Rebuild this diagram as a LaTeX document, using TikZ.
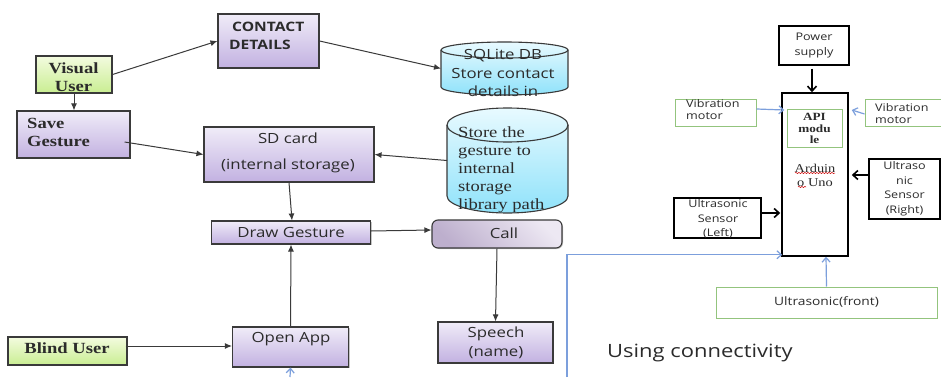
\documentclass[tikz,border=0pt]{standalone}
\usepackage{fontspec}
\setmainfont[FakeStretch=1.2]{Open Sans}
\newfontfamily\serifF[FakeStretch=1.2]{Liberation Serif}
\usetikzlibrary{arrows.meta,shadows,decorations.pathmorphing}
\definecolor{boxline}{HTML}{3A3A3A}
\definecolor{bluel}{HTML}{7C9FDC}
\definecolor{greenl}{HTML}{93C47D}
\definecolor{ink}{HTML}{2B2B2B}
\definecolor{purpleT}{HTML}{F0ECF8}
\definecolor{purpleB}{HTML}{C2B1E1}
\definecolor{greenT}{HTML}{F3FBDF}
\definecolor{greenB}{HTML}{C9EE92}
\definecolor{cyanT}{HTML}{E8FAFF}
\definecolor{cyanB}{HTML}{8FE2FA}
\definecolor{callT}{HTML}{EDE8F3}
\definecolor{callB}{HTML}{BDAFCD}
\tikzset{
  x=1pt,y=-1pt,
  txt/.style={text=ink,inner sep=0pt,align=center,font=\fontsize{14}{20}\selectfont},
  serifbold/.style={txt,font=\serifF\bfseries\fontsize{15.5}{18}\selectfont},
  sansbold/.style={txt,font=\bfseries\fontsize{13}{18}\selectfont},
  smalltxt/.style={txt,font=\fontsize{10.5}{14.5}\selectfont},
  soft shadow/.style={drop shadow={shadow xshift=1pt,shadow yshift=-1pt,fill=gray,opacity=.45}},
  purple box/.style={rectangle,draw=boxline,line width=1.1pt,top color=purpleT,bottom color=purpleB,inner sep=0pt,soft shadow},
  green box/.style={rectangle,draw=boxline,line width=1.1pt,top color=greenT,bottom color=greenB,inner sep=0pt,soft shadow},
  blackbox/.style={rectangle,draw=black,line width=1.5pt,fill=white,inner sep=0pt},
  thinbox/.style={rectangle,draw=greenl,line width=1pt,fill=white,inner sep=0pt},
  conn/.style={draw=boxline,line width=1pt,-{Latex[length=7pt,width=6pt]}},
  thick conn/.style={draw=black,line width=1.6pt,-{Straight Barb[length=5pt,width=9pt]}},
  blue conn/.style={draw=bluel,line width=1.2pt,-{Straight Barb[length=4.5pt,width=8pt]}},
  squiggle/.style={red!80!black,line width=.5pt,decorate,decoration={snake,amplitude=.6pt,segment length=3pt}},
}
% name, left, top, right, bottom, ry
\newcommand{\cylshape}[6]{%
  \pgfmathsetmacro{\rxv}{(#4-#2)/2}
  \pgfmathsetmacro{\yt}{#3+#6}
  \pgfmathsetmacro{\yb}{#5-#6}
  \path[top color=cyanT,bottom color=cyanB,draw=boxline,line width=1.1pt]
    (#2,\yt) arc[start angle=180,end angle=0,x radius=\rxv pt,y radius=#6 pt]
    -- (#4,\yb) arc[start angle=0,end angle=-180,x radius=\rxv pt,y radius=#6 pt] -- cycle;
  \draw[boxline,line width=1.1pt] (#2,\yt) arc[start angle=180,end angle=360,x radius=\rxv pt,y radius=#6 pt];
  \node[minimum width=#4 pt-#2 pt,minimum height=#5 pt-#3 pt,inner sep=0pt,outer sep=0pt] (#1) at ({(#2+#4)/2},{(#3+#5)/2}) {};
}
\begin{document}
\begin{tikzpicture}
\useasboundingbox (0,0) rectangle (941,377);
\fill[white] (0,0) rectangle (941,377);

% left flowchart boxes
\node[green box,minimum width=76pt,minimum height=37pt] (visual) at (74,74.5) {};
\node[purple box,minimum width=113pt,minimum height=47pt] (save) at (73.5,134.5) {};
\node[purple box,minimum width=101pt,minimum height=54pt] (contact) at (268.5,41) {};
\node[purple box,minimum width=170pt,minimum height=55pt] (sd) at (289,154.5) {};
\node[purple box,minimum width=159pt,minimum height=23pt] (draw) at (291,232.5) {};
\node[rectangle,rounded corners=6pt,draw=boxline,line width=1.1pt,top color=callT,bottom color=callB,shading angle=-45,inner sep=0pt,
  soft shadow,minimum width=130pt,minimum height=28pt] (call) at (497,234) {};
\node[purple box,minimum width=116pt,minimum height=40pt] (open) at (290.5,347) {};
\node[green box,minimum width=119pt,minimum height=28pt] (blind) at (67.5,351) {};
\node[purple box,minimum width=115pt,minimum height=41pt] (speech) at (495.5,342.5) {};
\cylshape{sqlite}{441}{42}{568}{95}{8}
\cylshape{store}{447}{108}{568}{213}{17}

% left flowchart connectors
\draw[conn] (visual.east) -- (contact.west);
\draw[conn] (visual.south) -- (visual.south |- save.north);
\draw[conn] ([xshift=-6pt,yshift=-7.5pt]save.east) -- (sd.west);
\draw[conn] (contact.east) -- (sqlite.west);
\draw[conn] (store.west) -- (sd.east);
\draw[conn] (sd.south) -- ([xshift=1pt]draw.north);
\draw[conn] ([yshift=1.5pt]draw.east) -- ([yshift=4pt]call.west);
\draw[conn] (call.south) -- (speech.north);
\draw[conn] (open.north) -- (draw.south);
\draw[conn] ([xshift=-2pt,yshift=5pt]blind.east) -- ([yshift=1pt]open.west);

% left flowchart text
\node[serifbold] (visualT) at (73.5,77) {Visual\\User};
\node[serifbold,align=left,anchor=west] (saveT) at (27,132) {Save\\Gesture};
\node[sansbold,align=left,anchor=west] (contactT) at (229,36) {\hspace*{3pt}CONTACT\\DETAILS};
\node[txt,font=\fontsize{14}{26.5}\selectfont] (sdT) at (288,153) {SD card\\(internal storage)};
\node[txt] (drawT) at (291,232) {Draw Gesture};
\node[txt] (callT) at (504,233) {Call};
\node[txt] (openT) at (291,339) {Open App};
\node[serifbold] (blindT) at (67,348) {Blind User};
\node[txt,font=\fontsize{14}{18.5}\selectfont] (speechT) at (496,343) {Speech\\(name)};
\node[txt,font=\fontsize{14}{18.5}\selectfont] (sqliteT) at (503,73) {SQLite DB\\Store contact\\details in};
\node[txt,align=left,anchor=west,font=\serifF\fontsize{15.5}{18}\selectfont] (storeT) at (458,170) {Store the\\gesture to\\internal\\storage\\library path};

% right block diagram
\node[blackbox,minimum width=70pt,minimum height=39pt,smalltxt] (power) at (814,45.5) {Power\\supply};
\node[blackbox,minimum width=66pt,minimum height=163pt] (uno) at (815,174.5) {};
\node[thinbox,minimum width=55pt,minimum height=37pt,font=\serifF\bfseries\fontsize{11}{11.5}\selectfont,text=ink,align=center] (api) at (814.5,128.5) {API\\modu\\le};
\node[thinbox,minimum width=81pt,minimum height=26pt] (vibl) at (715.5,113) {};
\node[thinbox,minimum width=76pt,minimum height=26pt] (vibr) at (903,113) {};
\node[blackbox,minimum width=71pt,minimum height=60pt,smalltxt] (usr) at (904.5,189) {Ultraso\\nic\\Sensor\\(Right)};
\node[blackbox,minimum width=87pt,minimum height=40pt] (usl) at (717.5,218) {};
\node[thinbox,minimum width=221pt,minimum height=31pt,smalltxt,font=\fontsize{11.5}{14}\selectfont] (front) at (826.5,302.5) {Ultrasonic(front)};

\node[txt,font=\fontsize{10.5}{11.5}\selectfont,align=left,anchor=west] (viblT) at (686,109.5) {Vibration\\motor};
\node[txt,font=\fontsize{10.5}{11.5}\selectfont,align=left,anchor=west] (vibrT) at (875,113.5) {Vibration\\motor};
\node[smalltxt] (uslT) at (718,219) {Ultrasonic\\Sensor\\(Left)};
\node[txt,font=\serifF\fontsize{12}{14}\selectfont] (unoT) at (815,175) {Arduin\\o Uno};
\node[txt,font=\fontsize{18.3}{20}\selectfont,anchor=west] (usingT) at (607,352.5) {Using connectivity};

\draw[squiggle] ([xshift=-20pt,yshift=2pt]unoT.center) -- ([xshift=20pt,yshift=2pt]unoT.center);
\draw[squiggle] ([xshift=-17pt,yshift=-12pt]unoT.center) -- ([xshift=-9pt,yshift=-12pt]unoT.center);

% right connectors
\draw[thick conn] ([xshift=-2pt,yshift=-3pt]power.south) -- ([xshift=-3pt]uno.north);
\draw[blue conn] ([yshift=4pt]vibl.east) -- ([xshift=3pt,yshift=64.5pt]uno.west);
\draw[blue conn] ([yshift=-1pt]vibr.west) -- ([xshift=3pt,yshift=64.5pt]uno.east);
\draw[thick conn] ([yshift=14pt]usr.west) -- ([xshift=3pt,yshift=-.5pt]uno.east);
\draw[thick conn] ([yshift=5pt]usl.east) -- ([xshift=-1pt,yshift=-38.5pt]uno.west);
\draw[blue conn] (front.north) -- ([xshift=11pt]uno.south);

\coordinate (bottomL) at (567,377);
\coordinate (bottomO) at (290,377);
\coordinate (unoIn) at ([xshift=1pt,yshift=2pt]uno.south west);
\draw[blue conn] (bottomL) -- (bottomL |- unoIn) -- (unoIn);
\draw[blue conn] (bottomO) -- (open.south);
\end{tikzpicture}
\end{document}
